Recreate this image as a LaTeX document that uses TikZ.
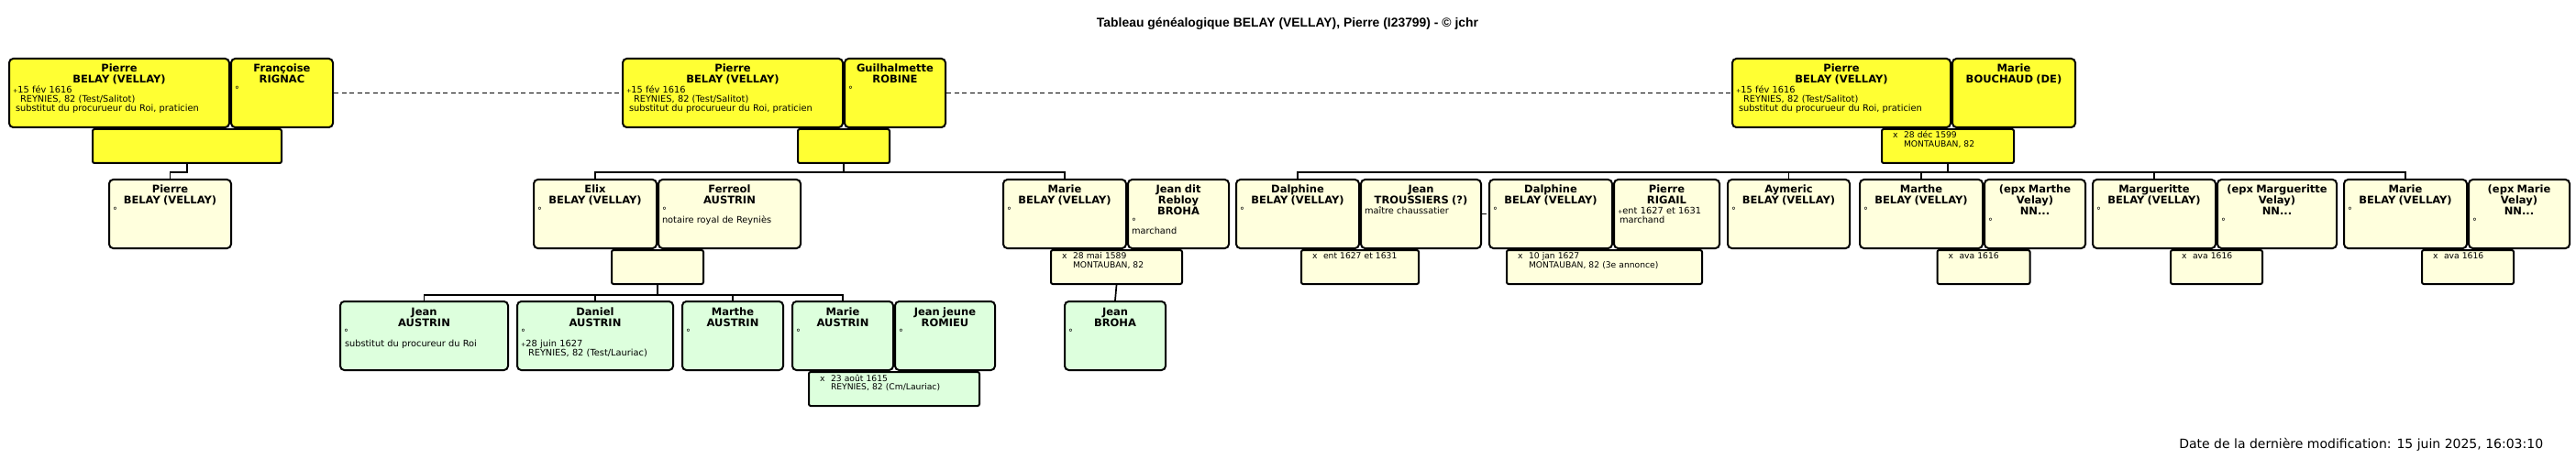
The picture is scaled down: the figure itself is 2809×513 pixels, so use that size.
\documentclass[tikz,border=0pt]{standalone}
\usepackage{fontspec}
\setmainfont{DejaVu Sans}
\newfontfamily\arial{Liberation Sans}
\usepackage{xcolor}
\usepackage{tikz}

\definecolor{jaune}{HTML}{FFFF33}
\definecolor{creme}{HTML}{FFFFDD}
\definecolor{vert}{HTML}{DDFFDD}

\newcommand{\nom}[1]{\raggedright{\centering\bfseries\fontsize{11.5}{12}\selectfont #1\par}}
\newcommand{\dc}{{\fontsize{6.5}{6.5}\selectfont+}}
\newcommand{\mx}{\makebox[12pt][l]{x}}
\newcommand{\ret}{\hspace*{12pt}}

\begin{document}
\begin{tikzpicture}[x=1pt,y=-1pt,line width=1.7pt,
  indi/.style={draw,line width=2pt,rounded corners=4.5pt,anchor=north west,
    inner xsep=4pt,inner ysep=5pt,text height=10pt,text depth=55pt,
    text width=#1,font=\fontsize{9.8}{10.3}\selectfont},
  wed/.style={draw,line width=2pt,rounded corners=2pt,anchor=north,
    inner xsep=12pt,inner ysep=1pt,text height=9pt,text depth=26pt,
    text width=#1,font=\fontsize{9.2}{9.5}\selectfont},
  lien/.style={dash pattern=on 5pt off 3.5pt}]
\useasboundingbox (0,0) rectangle (2809,513);
\node[anchor=base,inner sep=0pt,font=\arial\bfseries\fontsize{13.9}{16}\selectfont] (titre) at (1404,30)
  {Tableau généalogique BELAY (VELLAY), Pierre (I23799) - © jchr};

% generation 1
\node[indi=232pt,fill=jaune] at (9,63) (p1) {\nom{Pierre\\BELAY (VELLAY)}\dc15 fév 1616\\\hspace*{8pt}REYNIES, 82 (Test/Salitot)\\\hspace*{3pt}substitut du procurueur du Roi, praticien};
\node[indi=103pt,fill=jaune] at (p1.north east) (f1) {\nom{Françoise\\RIGNAC}°};
\node[indi=232pt,fill=jaune] at (678,63) (p2) {\nom{Pierre\\BELAY (VELLAY)}\dc15 fév 1616\\\hspace*{8pt}REYNIES, 82 (Test/Salitot)\\\hspace*{3pt}substitut du procurueur du Roi, praticien};
\node[indi=102pt,fill=jaune] at (p2.north east) (g2) {\nom{Guilhalmette\\ROBINE}°};
\node[indi=230pt,fill=jaune] at (1888,63) (p3) {\nom{Pierre\\BELAY (VELLAY)}\dc15 fév 1616\\\hspace*{8pt}REYNIES, 82 (Test/Salitot)\\\hspace*{3pt}substitut du procurueur du Roi, praticien};
\node[indi=126pt,fill=jaune] at (p3.north east) (b3) {\nom{Marie\\BOUCHAUD (DE)}};
\node[wed=182pt,fill=jaune] at ([xshift=-47pt]p1.south east) (m1) {};
\node[wed=76pt,fill=jaune] at (p2.south east) (m2) {};
\node[wed=120pt,fill=jaune] at ([xshift=-4pt]p3.south east) (m3) {\mx28 déc 1599\\\ret MONTAUBAN, 82};
\draw[lien] (f1.east) -- (p2.west);
\draw[lien] (g2.east) -- (p3.west);

% generation 2
\node[indi=125pt,fill=creme] at (118,195) (c1) {\nom{Pierre\\BELAY (VELLAY)}°};
\node[indi=126pt,fill=creme] at (581,195) (e1) {\nom{Elix\\BELAY (VELLAY)}°};
\node[indi=147pt,fill=creme] at (e1.north east) (fa) {\nom{Ferreol\\AUSTRIN}°\\notaire royal de Reyniès};
\node[indi=126pt,fill=creme] at (1093,195) (ma) {\nom{Marie\\BELAY (VELLAY)}°};
\node[indi=102pt,fill=creme] at (ma.north east) (jr) {\nom{Jean dit\\Rebloy\\BROHA}°\\marchand};
\node[indi=126pt,fill=creme] at (1347,195) (d1) {\nom{Dalphine\\BELAY (VELLAY)}°};
\node[indi=123pt,fill=creme] at (d1.north east) (jt) {\nom{Jean\\TROUSSIERS (?)}maître chaussatier};
\node[indi=126pt,fill=creme] at (1623,195) (d2) {\nom{Dalphine\\BELAY (VELLAY)}°};
\node[indi=107pt,fill=creme] at (d2.north east) (pr) {\nom{Pierre\\RIGAIL}\dc ent 1627 et 1631\\\hspace*{2pt}marchand};
\node[indi=125pt,fill=creme] at (1883,195) (ay) {\nom{Aymeric\\BELAY (VELLAY)}°};
\node[indi=126pt,fill=creme] at (2027,195) (mt) {\nom{Marthe\\BELAY (VELLAY)}°};
\node[indi=102pt,fill=creme] at (mt.north east) (n1) {\nom{(epx Marthe\\Velay)\\NN...}°};
\node[indi=126pt,fill=creme] at (2281,195) (mg) {\nom{Margueritte\\BELAY (VELLAY)}°};
\node[indi=122pt,fill=creme] at (mg.north east) (n2) {\nom{(epx Margueritte\\Velay)\\NN...}°};
\node[indi=126pt,fill=creme] at (2555,195) (mr) {\nom{Marie\\BELAY (VELLAY)}°};
\node[indi=102pt,fill=creme] at (mr.north east) (n3) {\nom{(epx Marie\\Velay)\\NN...}°};
\node[wed=76pt,fill=creme] at (e1.south east) (me) {};
\node[wed=119pt,fill=creme] at ([xshift=-11.5pt]ma.south east) (mb) {\mx28 mai 1589\\\ret MONTAUBAN, 82};
\node[wed=104pt,fill=creme] at (d1.south east) (md1) {\mx ent 1627 et 1631};
\node[wed=189pt,fill=creme] at ([xshift=-9.5pt]d2.south east) (md2) {\mx10 jan 1627\\\ret MONTAUBAN, 82 (3e annonce)};
\node[wed=77pt,fill=creme] at (mt.south east) (mm1) {\mx ava 1616};
\node[wed=76pt,fill=creme] at (mg.south east) (mm2) {\mx ava 1616};
\node[wed=76pt,fill=creme] at (mr.south east) (mm3) {\mx ava 1616};
\draw[lien] (jt.east) -- (d2.west);

\draw (m1.south) -- ++(0,9) -| (c1.north);
\foreach \e in {e1,ma} \draw (m2.south) -- ++(0,9) -| (\e.north);
\foreach \e in {d1,ay,mt,mg,mr} \draw (m3.south) -- ++(0,9) -| (\e.north);

% generation 3
\node[indi=175pt,fill=vert] at (370,328) (ja) {\nom{Jean\\AUSTRIN}°\\[2pt]\hspace*{1pt}substitut du procureur du Roi};
\node[indi=162pt,fill=vert] at (563,328) (da) {\nom{Daniel\\AUSTRIN}°\\[2pt]\dc28 juin 1627\\\hspace*{8pt}REYNIES, 82 (Test/Lauriac)};
\node[indi=102pt,fill=vert] at (743,328) (tA) {\nom{Marthe\\AUSTRIN}°};
\node[indi=102pt,fill=vert] at (863,328) (xa) {\nom{Marie\\AUSTRIN}°};
\node[indi=101pt,fill=vert] at (xa.north east) (jj) {\nom{Jean jeune\\ROMIEU}°};
\node[wed=162pt,fill=vert] at (xa.south east) (mxa) {\mx23 août 1615\\\ret REYNIES, 82 (Cm/Lauriac)};
\node[indi=102pt,fill=vert] at (1160,328) (jb) {\nom{Jean\\BROHA}°};

\foreach \e in {ja,da,tA,xa} \draw (me.south) -- ++(0,11) -| (\e.north);
\draw (mb.south) -- (jb.north);

\node[anchor=base east,inner sep=0pt,font=\fontsize{14}{16}\selectfont] (maj) at (2774,489)
  {Date de la dernière modification: 15 juin 2025, 16:03:10};
\end{tikzpicture}
\end{document}
